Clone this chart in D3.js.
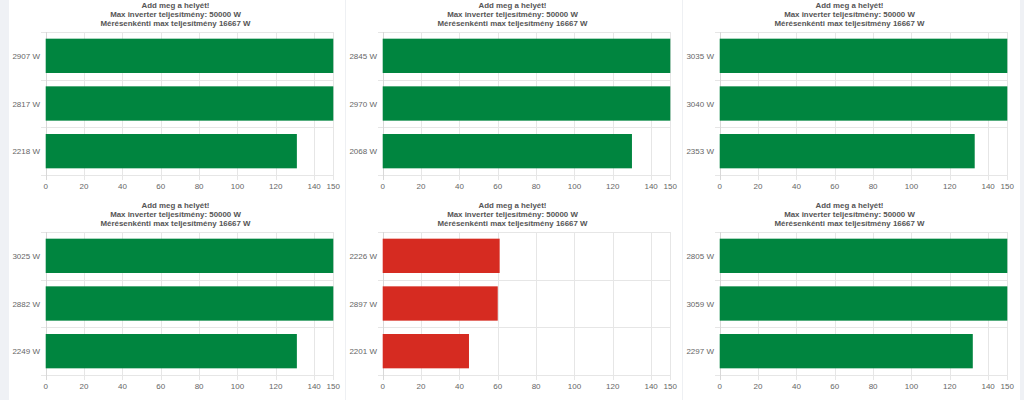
<!DOCTYPE html>
<html><head><meta charset="utf-8">
<script src="https://cdn.jsdelivr.net/npm/d3@7"></script>
<style>html,body{margin:0;padding:0;background:#fff;overflow:hidden}svg{display:block}</style>
</head><body>
<svg id="c" width="1024" height="400"></svg>
<script>
const titleLines = ["Add meg a helyét!", "Max inverter teljesítmény: 50000 W", "Mérésenkénti max teljesítmény 16667 W"];
const labels1 = ["2907 W", "2817 W", "2218 W"], values1 = [150, 150, 131];
const labels2 = ["2845 W", "2970 W", "2068 W"], values2 = [150, 150, 130];
const labels3 = ["3035 W", "3040 W", "2353 W"], values3 = [150, 150, 133];
const labels4 = ["3025 W", "2882 W", "2249 W"], values4 = [150, 150, 131];
const labels5 = ["2226 W", "2897 W", "2201 W"], values5 = [61, 60, 45];
const labels6 = ["2805 W", "3059 W", "2297 W"], values6 = [150, 150, 132];
const xTicks = [0, 20, 40, 60, 80, 100, 120, 140, 150];
const xMax = 150;
const GREEN = "#00853f", RED = "#d62b21";

const panels = [
  {labels: labels1, values: values1, color: GREEN},
  {labels: labels2, values: values2, color: GREEN},
  {labels: labels3, values: values3, color: GREEN},
  {labels: labels4, values: values4, color: GREEN},
  {labels: labels5, values: values5, color: RED},
  {labels: labels6, values: values6, color: GREEN}
];

const svg = d3.select("#c");
svg.append("rect").attr("width", 1024).attr("height", 400).attr("fill", "#fff");
svg.append("rect").attr("x", 0).attr("y", 0).attr("width", 9).attr("height", 400).attr("fill", "#eff1f5");
svg.append("rect").attr("x", 1020).attr("y", 0).attr("width", 4).attr("height", 400).attr("fill", "#eff1f5");
[345, 682].forEach(x => svg.append("rect").attr("x", x).attr("y", 0).attr("width", 1).attr("height", 400).attr("fill", "#eef0f3"));

const cellX0 = 9, cellStep = 337, rowStep = 200;
const font = "'Liberation Sans', Arial, sans-serif";

panels.forEach((p, i) => {
  const col = i % 3, row = Math.floor(i / 3);
  const gx = cellX0 + col * cellStep, gy = row * rowStep;
  const g = svg.append("g").attr("transform", `translate(${gx},${gy})`);

  const x = d3.scaleLinear().domain([0, xMax]).range([36.7, 324.3]);
  const y = d3.scaleBand().domain(p.labels).range([32, 175]).paddingInner(0).paddingOuter(0);

  titleLines.forEach((t, k) => {
    g.append("text").attr("x", 166.5).attr("y", 7.8 + k * 9.3)
      .attr("text-anchor", "middle").attr("font-family", font)
      .attr("font-size", 7.9).attr("font-weight", "bold").attr("fill", "#555")
      .text(t);
  });

  g.append("g").selectAll("line").data(xTicks).join("line")
    .attr("x1", d => Math.round(x(d)) + 0.5).attr("x2", d => Math.round(x(d)) + 0.5)
    .attr("y1", 32).attr("y2", 180)
    .attr("stroke", "#e6e6e6").attr("stroke-width", 1);

  const bounds = p.labels.map(l => y(l)).concat([y.range()[1]]);
  g.append("g").selectAll("line").data(bounds).join("line")
    .attr("x1", 32).attr("x2", x(xMax))
    .attr("y1", d => Math.round(d) + 0.5).attr("y2", d => Math.round(d) + 0.5)
    .attr("stroke", "#e6e6e6").attr("stroke-width", 1);

  g.append("line").attr("x1", Math.round(x(0)) + 0.5).attr("x2", Math.round(x(0)) + 0.5)
    .attr("y1", 32).attr("y2", 180).attr("stroke", "#d8d8d8");

  const bw = y.bandwidth() * 0.72;
  g.append("g").selectAll("rect").data(p.values).join("rect")
    .attr("x", x(0))
    .attr("y", (d, j) => y(p.labels[j]) + (y.bandwidth() - bw) / 2)
    .attr("width", d => x(d) - x(0))
    .attr("height", bw)
    .attr("fill", p.color);

  g.append("g").selectAll("text").data(p.labels).join("text")
    .attr("x", 31).attr("y", d => y(d) + y.bandwidth() / 2 + 3)
    .attr("text-anchor", "end").attr("font-family", font)
    .attr("font-size", 8).attr("fill", "#666").text(d => d);

  g.append("g").selectAll("text").data(xTicks).join("text")
    .attr("x", d => x(d)).attr("y", 189)
    .attr("text-anchor", "middle").attr("font-family", font)
    .attr("font-size", 8).attr("fill", "#666").text(d => d);
});
</script>
</body></html>
